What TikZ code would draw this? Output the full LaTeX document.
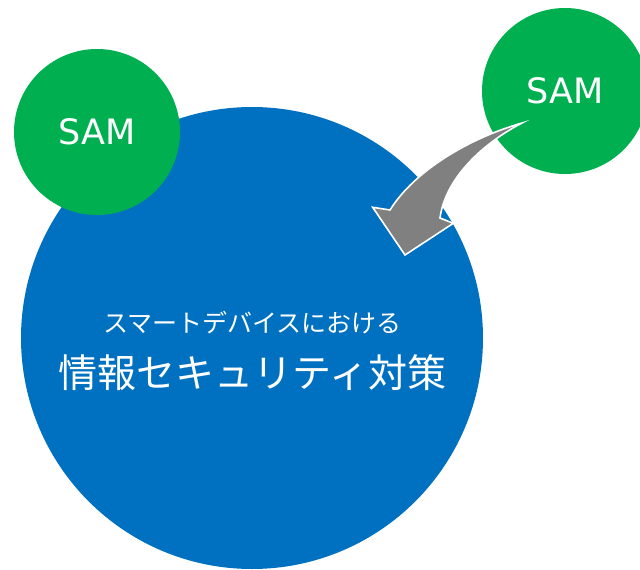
\documentclass[tikz,border=0pt]{standalone}
\usepackage{fontspec}
\setmainfont{DejaVu Sans}
\newfontfamily\jpfont{Noto Sans CJK JP}
\definecolor{bigblue}{RGB}{0,112,192}
\definecolor{samgreen}{RGB}{0,176,80}
\definecolor{arrowgray}{RGB}{128,128,128}
\begin{document}
\begin{tikzpicture}[x=1pt,y=-1pt,
  bigcircle/.style={circle,fill=bigblue,minimum size=462pt,inner sep=0pt},
  samcircle/.style={circle,fill=samgreen,minimum size=166pt,inner sep=0pt,text=white,font=\fontsize{35}{40}\selectfont},
  jptext/.style={text=white,inner sep=0pt}]
\useasboundingbox (0,0) rectangle (640,570);
\clip (0,0) rectangle (640,570);
\node[bigcircle] (big) at (252,338) {};
\node[samcircle] (samL) at (97,132) {SAM};
\node[samcircle] (samR) at (565,91) {SAM};
% curved block arrow
\coordinate (tail) at (522,123);
\filldraw[fill=arrowgray,draw=white,line width=1.6pt,line join=miter]
  (tail) .. controls (470,138) and (415,170) .. (390,210)
  -- (372.7,207.3) -- (405,255) -- (453.3,223.3) -- (440,218)
  .. controls (445,180) and (480,145) .. (tail) -- cycle;
% texts
\node[jptext,font=\jpfont\fontsize{25}{28}\selectfont] (line1) at (252.5,323) {スマートデバイスにおける};
\node[jptext,font=\jpfont\fontsize{39}{44}\selectfont] (line2) at (252.5,373) {情報セキュリティ対策};
\end{tikzpicture}
\end{document}
